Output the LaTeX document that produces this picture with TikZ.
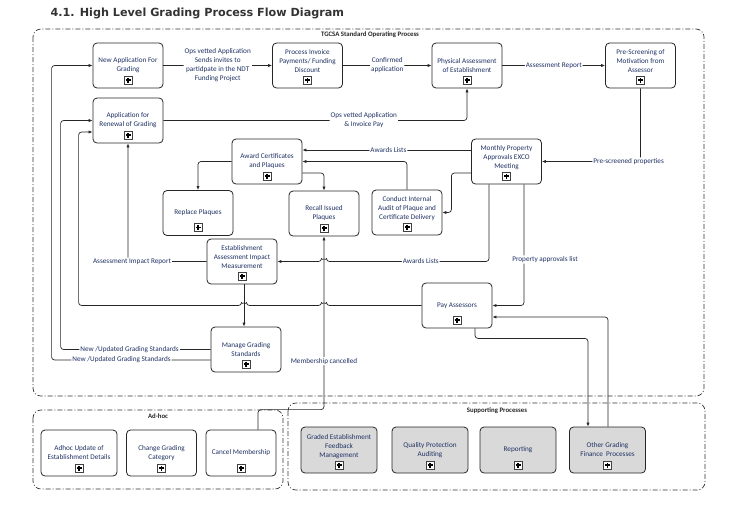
\documentclass[tikz,border=0pt]{standalone}
\usepackage{fontspec}
\setmainfont{Carlito}
\newfontfamily\titlefont{DejaVu Sans}
\usetikzlibrary{arrows.meta}
\definecolor{navytext}{RGB}{31,50,99}
\definecolor{supgrey}{RGB}{217,217,217}
\tikzset{
	task/.style={
			draw=black!85, line width=0.8pt, rounded corners=4pt, fill=white,
			minimum width=70pt, minimum height=45pt, inner sep=1pt, align=center,
			text=navytext, font=\fontsize{7.2}{9}\selectfont,
			path picture={
					\draw[sharp corners,black!75,line width=0.5pt,fill=white]
					([xshift=-4pt,yshift=4pt]path picture bounding box.south) rectangle
					([xshift=4pt,yshift=12pt]path picture bounding box.south);
					\draw[sharp corners,black,line width=1.1pt]
					([yshift=5.5pt]path picture bounding box.south) --
					([yshift=10.5pt]path picture bounding box.south)
					([xshift=-2.5pt,yshift=8pt]path picture bounding box.south) --
					([xshift=2.5pt,yshift=8pt]path picture bounding box.south);
				}
		},
	support/.style={task, fill=supgrey, minimum width=76pt, minimum height=46pt},
	lift/.style={text depth=9pt},
	link/.style={draw=black!85, line width=0.7pt, rounded corners=3pt},
	flow/.style={link, -{Latex[length=4pt,width=3.2pt]}},
	lbl/.style={fill=white, inner sep=1pt, align=center, text=navytext,
			font=\fontsize{7.2}{9}\selectfont},
	pool/.style={draw=black!80, line width=0.7pt, rounded corners=8pt,
			dash pattern=on 5pt off 2pt on 1pt off 2pt},
	pooltitle/.style={font=\bfseries\fontsize{6.8}{8}\selectfont, text=black!85}
}

\begin{document}
\begin{tikzpicture}[x=1pt,y=-1pt]
	\useasboundingbox (0,0) rectangle (743,507);
	\node[anchor=base west,font=\titlefont\bfseries\fontsize{11.2}{14}\selectfont,text=black!80] (title) at (47,16) {4.1. High Level Grading Process Flow Diagram};

	% pools
	\draw[pool] (33,29) rectangle (704,396);
	\node[pooltitle] (sopname) at (370,35) {TGCSA Standard Operating Process};
	\draw[pool] (33,410) rectangle (283,489);
	\node[pooltitle] (adhocname) at (158,416) {Ad-hoc};
	\draw[pool] (288,403) rectangle (705,490);
	\node[pooltitle] (supname) at (497,411) {Supporting Processes};

	% standard operating process
	\node[task] (newapp) at (128,65.5) {New Application For\\Grading};
	\node[task,lift] (invoice) at (307.5,65.5) {Process Invoice\\Payments/ Funding\\Discount};
	\node[task] (physical) at (467,65.5) {Physical Assessment\\of Establishment};
	\node[task,lift] (prescreen) at (640.5,65.5) {Pre-Screening of\\Motivation from\\Assessor};
	\node[task] (renewal) at (128,120.5) {Application for\\Renewal of Grading};
	\node[task] (award) at (267,161.5) {Award Certificates\\and Plaques};
	\node[task,lift] (exco) at (506.5,161.5) {Monthly Property\\Approvals EXCO\\Meeting};
	\node[task] (replace) at (198,213) {Replace Plaques};
	\node[task] (recall) at (324,213.5) {Recall Issued\\Plaques};
	\node[task,lift] (audit) at (407,212.5) {Conduct Internal\\Audit of Plaque and\\Certificate Delivery};
	\node[task,lift] (impact) at (242,261.5) {Establishment\\Assessment Impact\\Measurement};
	\node[task] (pay) at (457,305.5) {Pay Assessors};
	\node[task] (manage) at (246,349.5) {Manage Grading\\Standards};

	% ad-hoc
	\node[task,minimum width=76pt,minimum height=46pt] (adhocupd) at (79,453) {Adhoc Update of\\Establishment Details};
	\node[task,minimum height=46pt] (changecat) at (161.5,453) {Change Grading\\Category};
	\node[task,minimum height=46pt] (cancel) at (241,453) {Cancel Membership};

	% supporting processes
	\node[support,lift] (feedback) at (339,450) {Graded Establishment\\Feedback\\Management};
	\node[support] (quality) at (430,450) {Quality Protection\\Auditing};
	\node[support] (reporting) at (518,450) {Reporting};
	\node[support] (finance) at (607.5,450) {Other Grading\\Finance\ \ Processes};

	% flows
	\draw[flow] (newapp.east) -- node[lbl] {Ops vetted Application\\Sends invites to\\partidpate in the NDT\\Funding Project} (invoice.west);
	\draw[flow] (invoice.east) -- node[lbl] {Confirmed\\application} (physical.west);
	\draw[flow] (physical.east) -- node[lbl] {Assessment Report} (prescreen.west);
	\draw[flow] (renewal.east) -| node[lbl,pos=0.33] {Ops vetted Application\\\& Invoice Pay} (physical.south);
	\draw[flow] (prescreen.south) |- node[lbl,pos=0.56] {Pre-screened properties} (exco.east);
	\draw[flow] ([yshift=11.5pt]exco.west) -- node[lbl,pos=0.49] {Awards Lists} ([yshift=11.5pt]award.east);
	\draw[flow] (audit.north) |- (award.east);
	\draw[flow] ([yshift=-11.5pt]exco.west) -| ([xshift=9pt]audit.east) -- (audit.east);
	\draw[flow] (award.west) -| (replace.north);
	\draw[flow] ([yshift=-11.5pt]award.east) -| (recall.north);
	\draw[flow] ([xshift=-17.5pt]exco.south) |- node[lbl,pos=0.71] {Awards Lists} (326.5,261.5)
		arc[start angle=0,end angle=180,radius=2.5pt] -- (impact.east);
	\draw[flow] ([xshift=17.5pt]exco.south) |- node[lbl,pos=0.31,xshift=21pt] {Property approvals list} (pay.east);
	\draw[flow] ([xshift=0.5pt]finance.north) |- ([yshift=-11.5pt]pay.east);
	\draw[flow] ([xshift=18pt]pay.south) -- ++(0,10) -| ([xshift=-19.5pt]finance.north);
	\draw[flow] (pay.west) -- (326.5,305.5) arc[start angle=0,end angle=180,radius=2.5pt]
		-- (246.5,305.5) arc[start angle=0,end angle=180,radius=2.5pt]
		-| ([xshift=-14pt,yshift=-11.5pt]renewal.west) -- ([yshift=-11.5pt]renewal.west);
	\draw[flow] ([xshift=2pt]impact.south) -- ([xshift=-2pt]manage.north);
	\draw[flow] (impact.west) -| node[lbl,pos=0.5,xshift=4pt] {Assessment Impact Report} (renewal.south);
	\draw[flow] (manage.west) -| node[lbl,pos=0.27] {New /Updated Grading Standards} ([xshift=-32pt]renewal.west) -- (renewal.west);
	\draw[flow] ([yshift=-10.5pt]manage.west) -| node[lbl,pos=0.28] {New /Updated Grading Standards} ([xshift=-41pt]newapp.west) -- (newapp.west);
	\draw[flow] ([xshift=17pt]cancel.north) -- ++(0,-20) -| node[lbl,pos=0.64] {Membership cancelled} (recall.south);
\end{tikzpicture}
\end{document}
